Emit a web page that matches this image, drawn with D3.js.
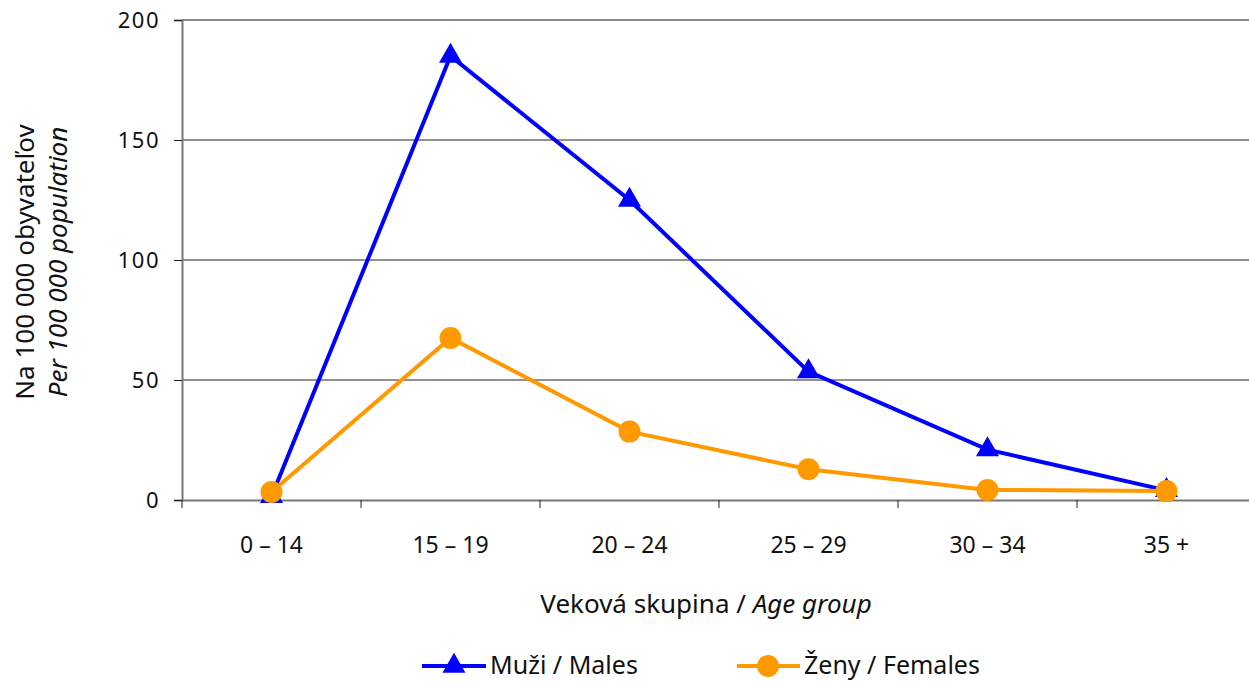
<!DOCTYPE html>
<html><head><meta charset="utf-8">
<script src="https://cdn.jsdelivr.net/npm/d3@7/dist/d3.min.js"></script>
<style>body{margin:0;background:#fff;} text{font-family:"Noto Sans",sans-serif;fill:#111;}</style>
</head><body><svg id="c" width="1249" height="682"></svg>
<script>
const categories = ["0 – 14","15 – 19","20 – 24","25 – 29","30 – 34","35 +"];
const males = [1.5, 185, 125, 53.5, 21, 4];
const females = [3.3, 67.5, 28.5, 12.8, 4.2, 3.7];
const yTicks = [0, 50, 100, 150, 200];

const svg = d3.select("#c");
const L = 182, R = 1256, T = 20, B = 500;
const x = d3.scaleBand().domain(categories).range([L, R]);
const y = d3.scaleLinear().domain([0, 200]).range([B, T]);

// grid
svg.append("g").selectAll("line").data(yTicks.filter(d => d > 0 && d < 200)).join("line")
  .attr("x1", L).attr("x2", 1249).attr("y1", d => y(d)).attr("y2", d => y(d))
  .attr("stroke", "#222").attr("stroke-width", 1);
svg.append("line").attr("x1", L).attr("x2", 1249).attr("y1", y(200)).attr("y2", y(200))
  .attr("stroke", "#888").attr("stroke-width", 2);

// y axis
const ya = svg.append("g").attr("transform", `translate(${L},0)`)
  .call(d3.axisLeft(y).tickValues(yTicks).tickSize(8).tickPadding(14));
ya.select(".domain").attr("stroke", "#777").attr("stroke-width", 2);
ya.selectAll(".tick line").attr("stroke", "#222");
ya.selectAll("text").style("font-size", "22px").style("letter-spacing", "1.5px");

// x axis
const xa = svg.append("g").attr("transform", `translate(0,${B})`)
  .call(d3.axisBottom(x).tickSize(0).tickPadding(37));
xa.select(".domain").attr("stroke", "#777").attr("stroke-width", 2);
xa.selectAll("text").style("font-size", "23px");
xa.selectAll(".bt").data(categories).join("line")
  .attr("x1", d => x(d)).attr("x2", d => x(d)).attr("y1", 0).attr("y2", 8)
  .attr("stroke", "#222");

const cx = d => x(d) + x.bandwidth() / 2;
const line = d3.line().x((d, i) => cx(categories[i])).y(d => y(d));

svg.append("path").datum(males).attr("d", line).attr("fill", "none")
  .attr("stroke", "#0000ff").attr("stroke-width", 4);
svg.append("path").datum(females).attr("d", line).attr("fill", "none")
  .attr("stroke", "#ff9900").attr("stroke-width", 4);

const tri = d3.symbol().type(d3.symbolTriangle).size(230);
svg.append("g").selectAll("path").data(males).join("path")
  .attr("d", tri).attr("fill", "#0000ff")
  .attr("transform", (d, i) => `translate(${cx(categories[i])},${y(d)})`);
svg.append("g").selectAll("circle").data(females).join("circle")
  .attr("cx", (d, i) => cx(categories[i])).attr("cy", d => y(d)).attr("r", 11)
  .attr("fill", "#ff9900");

// y title
const yt = svg.append("text").attr("transform", "translate(0,262) rotate(-90)")
  .attr("text-anchor", "middle").style("font-size", "26px");
yt.append("tspan").attr("x", 0).attr("y", 34).text("Na 100 000 obyvateľov");
yt.append("tspan").attr("x", 0).attr("y", 67).style("font-style", "italic").text("Per 100 000 population");

// x title
const xt = svg.append("text").attr("x", 706).attr("y", 613).attr("text-anchor", "middle").style("font-size", "26px");
xt.append("tspan").text("Veková skupina / ");
xt.append("tspan").style("font-style", "italic").text("Age group");

// legend
const lg = svg.append("g");
lg.append("line").attr("x1", 422).attr("x2", 486).attr("y1", 666).attr("y2", 666).attr("stroke", "#0000ff").attr("stroke-width", 4);
lg.append("path").attr("d", tri).attr("fill", "#0000ff").attr("transform", "translate(454,666)");
lg.append("text").attr("x", 490).attr("y", 674).style("font-size", "25px").text("Muži / Males");
lg.append("line").attr("x1", 737).attr("x2", 800).attr("y1", 666).attr("y2", 666).attr("stroke", "#ff9900").attr("stroke-width", 4);
lg.append("circle").attr("cx", 768).attr("cy", 666).attr("r", 11).attr("fill", "#ff9900");
lg.append("text").attr("x", 804).attr("y", 674).style("font-size", "25px").text("Ženy / Females");
</script></body></html>
